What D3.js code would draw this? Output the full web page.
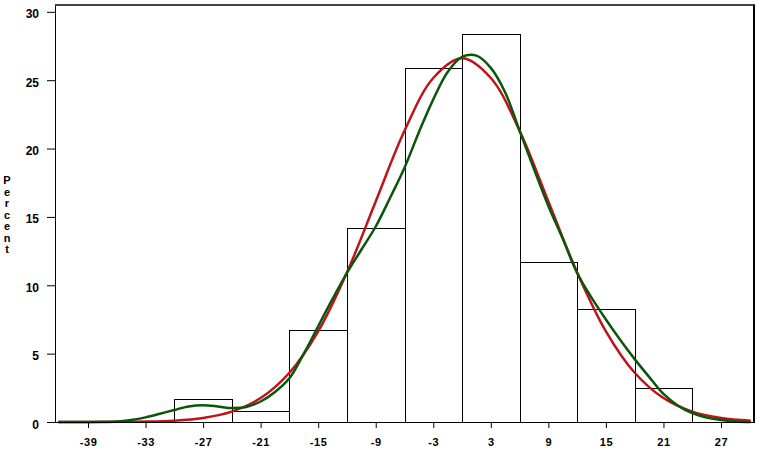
<!DOCTYPE html>
<html>
<head>
<meta charset="utf-8">
<script src="https://cdn.jsdelivr.net/npm/d3@7"></script>
<style>
  html, body { margin: 0; padding: 0; background: #fff; }
  svg { display: block; }
  .tick text { font-family: "Liberation Sans", Arial, sans-serif; font-weight: bold; font-size: 12px; fill: #000; }
</style>
</head>
<body>
<svg id="chart" width="760" height="450"></svg>
<script>
// ---- data ----
const binMids = [-27, -21, -15, -9, -3, 3, 9, 15, 21];
const binPercents = [1.7, 0.8, 6.7, 14.2, 25.9, 28.4, 11.7, 8.3, 2.5];
const binWidth = 6;

const xTickValues = [-39, -33, -27, -21, -15, -9, -3, 3, 9, 15, 21, 27];
const yTickValues = [0, 5, 10, 15, 20, 25, 30];

// red (normal) curve, read at every 3 units
const normalX = [-42.1, -39, -36, -33, -30, -27, -24, -21, -18, -15, -12, -9, -6, -3, 0, 3, 6, 9, 12, 15, 18, 21, 24, 27, 30.1];
const normalY = [0.0, 0.0, 0.01, 0.03, 0.1, 0.3, 0.76, 1.75, 3.6, 6.63, 10.94, 16.13, 21.3, 25.16, 26.6, 25.16, 21.3, 16.13, 10.94, 6.63, 3.6, 1.75, 0.76, 0.3, 0.1];

// green (kernel) curve, read every 1.5 units
const kernelX = [-42.1, -40.5, -39, -37.5, -36, -34.5, -33, -31.5, -30, -28.5, -27, -25.5, -24, -22.5, -21, -19.5, -18, -16.5, -15, -13.5, -12, -10.5, -9, -7.5, -6, -4.5, -3, -1.5, 0, 1.5, 3, 4.5, 6, 7.5, 9, 10.5, 12, 13.5, 15, 16.5, 18, 19.5, 21, 22.5, 24, 25.5, 27, 28.5, 30.1];
const kernelY = [0.0, 0.0, 0.0, 0.01, 0.03, 0.15, 0.34, 0.6, 0.88, 1.14, 1.22, 1.14, 1.02, 1.1, 1.5, 2.2, 3.2, 5.0, 7.0, 9.0, 10.9, 12.6, 14.3, 16.4, 18.6, 21.2, 23.6, 25.6, 26.7, 26.8, 25.9, 24.1, 21.3, 18.5, 15.8, 13.4, 10.9, 9.1, 7.5, 6.0, 4.6, 3.3, 2.05, 1.2, 0.66, 0.33, 0.14, 0.04, 0.0];

const yLabel = "Percent";

// ---- layout ----
const svg = d3.select("#chart");
const plotL = 55, plotR = 754, plotT = 5, plotB = 422;

const x = d3.scaleLinear().domain([-42.44, 30.44]).range([plotL, plotR]);
const y = d3.scaleLinear().domain([0, 30.5]).range([plotB, plotT]);

// bars
svg.append("g").selectAll("rect")
  .data(binMids.map((m, i) => ({ m, p: binPercents[i] })))
  .join("rect")
  .attr("x", d => Math.round(x(d.m - binWidth / 2)) + 0.5)
  .attr("width", d => Math.round(x(d.m + binWidth / 2)) - Math.round(x(d.m - binWidth / 2)))
  .attr("y", d => Math.round(y(d.p)) + 0.5)
  .attr("height", d => plotB - Math.round(y(d.p)))
  .attr("fill", "none")
  .attr("stroke", "#000")
  .attr("stroke-width", 1);

// curves
const line = d3.line()
  .x(d => x(d[0]))
  .y(d => y(d[1]))
  .curve(d3.curveCatmullRom.alpha(0.5));

svg.append("path")
  .datum(normalX.map((v, i) => [v, normalY[i]]))
  .attr("d", line)
  .attr("fill", "none")
  .attr("stroke", "#c0121a")
  .attr("stroke-width", 2.5);

svg.append("path")
  .datum(kernelX.map((v, i) => [v, kernelY[i]]))
  .attr("d", line)
  .attr("fill", "none")
  .attr("stroke", "#0b560b")
  .attr("stroke-width", 2.5);

// axes
const yAxis = d3.axisLeft(y).tickValues(yTickValues).tickSize(8).tickSizeOuter(0).tickPadding(8).tickFormat(d3.format("d"));
const gy = svg.append("g").attr("transform", `translate(${plotL},0)`).call(yAxis);
gy.select(".domain").remove();
gy.selectAll(".tick line").attr("stroke", "#000");
gy.selectAll(".tick text").attr("dy", "0.5em");

const xAxis = d3.axisBottom(x).tickValues(xTickValues).tickSize(6).tickSizeOuter(0).tickPadding(10).tickFormat(d => (d < 0 ? "-" + Math.abs(d) : String(d)));
const gx = svg.append("g").attr("transform", `translate(0,${plotB})`).call(xAxis);
gx.select(".domain").remove();
gx.selectAll(".tick line").attr("stroke", "#000");
gx.selectAll(".tick text").style("font-size", "11px").style("letter-spacing", "0.6px");

// frame
svg.append("line").attr("x1", plotL + 0.5).attr("x2", plotL + 0.5).attr("y1", plotT).attr("y2", plotB + 0.5).attr("stroke", "#000");
svg.append("line").attr("x1", plotL).attr("x2", plotR).attr("y1", plotB + 0.5).attr("y2", plotB + 0.5).attr("stroke", "#000");
svg.append("line").attr("x1", plotL).attr("x2", plotR + 1).attr("y1", plotT).attr("y2", plotT).attr("stroke", "#444").attr("stroke-width", 2);
svg.append("line").attr("x1", plotR).attr("x2", plotR).attr("y1", plotT).attr("y2", plotB + 1).attr("stroke", "#000").attr("stroke-width", 2);

// vertical stacked y label
const lab = svg.append("text")
  .attr("font-family", "'Liberation Sans', Arial, sans-serif")
  .attr("font-weight", "bold")
  .attr("font-size", "11px")
  .attr("text-anchor", "middle")
  .attr("fill", "#000");
yLabel.split("").forEach((ch, i) => {
  lab.append("tspan").attr("x", 7).attr("y", 184 + i * 11.5).text(ch);
});
</script>
</body>
</html>
